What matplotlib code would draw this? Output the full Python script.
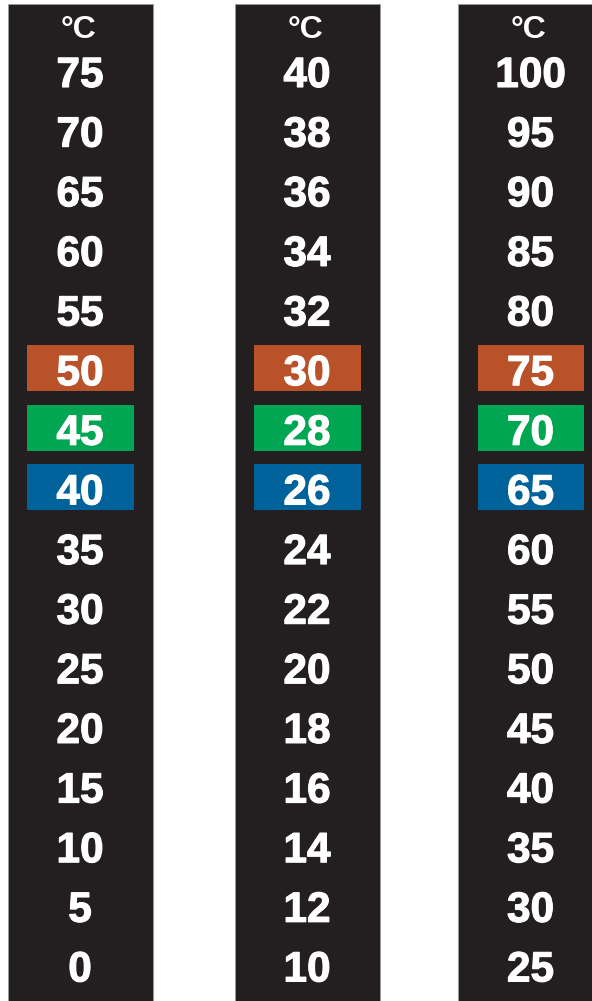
#!/usr/bin/env python3

#==============================================================================
# three temperature indicator strips
#==============================================================================

import matplotlib
matplotlib.use('Agg')
import matplotlib.pyplot as plt
import matplotlib.patheffects as pe
from matplotlib.patches import Rectangle

#==============================================================================
# data values
#==============================================================================

Unit = '°C'

ScaleA = ['75', '70', '65', '60', '55', '50', '45', '40',
          '35', '30', '25', '20', '15', '10', '5', '0']
ScaleB = ['40', '38', '36', '34', '32', '30', '28', '26',
          '24', '22', '20', '18', '16', '14', '12', '10']
ScaleC = ['100', '95', '90', '85', '80', '75', '70', '65',
          '60', '55', '50', '45', '40', '35', '30', '25']

HighlightRows   = [5, 6, 7]
HighlightColors = ['#b95228', '#00a651', '#00629a']

#==============================================================================
# layout (pixels)
#==============================================================================

W, H = 592, 1001
StripLefts = [7.5, 234.5, 458.0]
StripWidth = 145.0
StripTop   = 4.0
StripColor = '#231f20'

FirstBaseline = 87.5
RowStep       = 59.63
DigitHeight   = 31.0

BoxInset  = 19.7
BoxWidth  = 106.5
BoxHeight = 46.0

Heavy = [pe.withStroke(linewidth=0.8, foreground='white')]

fig = plt.figure(figsize=(W / 100, H / 100), dpi=100)
ax = fig.add_axes([0, 0, 1, 1])
ax.set_xlim(0, W)
ax.set_ylim(H, 0)
ax.axis('off')

for Left, Scale in zip(StripLefts, [ScaleA, ScaleB, ScaleC]):
  ax.add_patch(Rectangle((Left, StripTop), StripWidth, H + 10 - StripTop,
                         facecolor=StripColor, edgecolor='#9a9a9a', lw=0.6))
  Mid = Left + StripWidth / 2
  ax.text(Mid - 1.5, 38.5, Unit, color='white', fontsize=23, fontweight='bold',
          family='Liberation Sans', ha='center', va='baseline')
  for Row, Label in enumerate(Scale):
    Base = FirstBaseline + Row * RowStep
    if Row in HighlightRows:
      Color = HighlightColors[HighlightRows.index(Row)]
      Centre = Base - DigitHeight / 2 - 2
      ax.add_patch(Rectangle((Left + BoxInset, Centre - BoxHeight / 2),
                             BoxWidth, BoxHeight, facecolor=Color, lw=0))
    ax.text(Mid, Base - 0.5, Label, color='white', fontsize=30.5, fontweight='bold',
            family='Liberation Sans', ha='center', va='baseline',
            path_effects=Heavy)

fig.savefig('out.png', dpi=100)
